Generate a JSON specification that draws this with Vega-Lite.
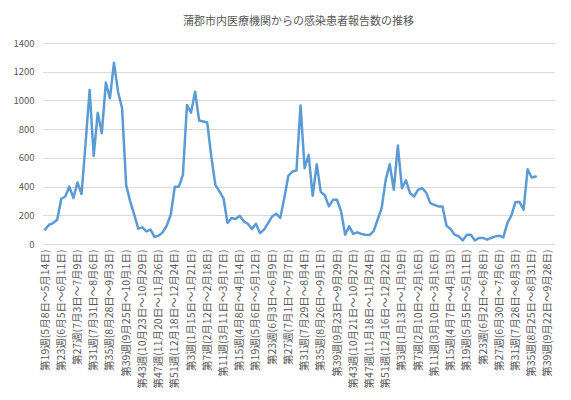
{
  "$schema": "https://vega.github.io/schema/vega-lite/v6.json",
  "width": 511,
  "height": 201,
  "padding": {"left": 12, "top": 16, "right": 16, "bottom": 4},
  "title": {
    "text": "蒲郡市内医療機関からの感染患者報告数の推移",
    "font": "Noto Sans CJK JP",
    "fontSize": 11,
    "fontWeight": "normal",
    "color": "#595959",
    "offset": 11
  },
  "data": {
    "values": [
      {"week": "第19週(5月8日～5月14日)", "count": 100},
      {"week": "第20週(5月15日～5月21日)", "count": 134},
      {"week": "第21週(5月22日～5月28日)", "count": 146},
      {"week": "第22週(5月29日～6月4日)", "count": 169},
      {"week": "第23週(6月5日～6月11日)", "count": 315},
      {"week": "第24週(6月12日～6月18日)", "count": 331},
      {"week": "第25週(6月19日～6月25日)", "count": 400},
      {"week": "第26週(6月26日～7月2日)", "count": 320},
      {"week": "第27週(7月3日～7月9日)", "count": 429},
      {"week": "第28週(7月10日～7月16日)", "count": 348},
      {"week": "第29週(7月17日～7月23日)", "count": 700},
      {"week": "第30週(7月24日～7月30日)", "count": 1073},
      {"week": "第31週(7月31日～8月6日)", "count": 614},
      {"week": "第32週(8月7日～8月13日)", "count": 915},
      {"week": "第33週(8月14日～8月20日)", "count": 772},
      {"week": "第34週(8月21日～8月27日)", "count": 1124},
      {"week": "第35週(8月28日～9月3日)", "count": 1015},
      {"week": "第36週(9月4日～9月10日)", "count": 1263},
      {"week": "第37週(9月11日～9月17日)", "count": 1061},
      {"week": "第38週(9月18日～9月24日)", "count": 945},
      {"week": "第39週(9月25日～10月1日)", "count": 412},
      {"week": "第40週(10月2日～10月8日)", "count": 297},
      {"week": "第41週(10月9日～10月15日)", "count": 204},
      {"week": "第42週(10月16日～10月22日)", "count": 107},
      {"week": "第43週(10月23日～10月29日)", "count": 116},
      {"week": "第44週(10月30日～11月5日)", "count": 88},
      {"week": "第45週(11月6日～11月12日)", "count": 100},
      {"week": "第46週(11月13日～11月19日)", "count": 49},
      {"week": "第47週(11月20日～11月26日)", "count": 58},
      {"week": "第48週(11月27日～12月3日)", "count": 81},
      {"week": "第49週(12月4日～12月10日)", "count": 127},
      {"week": "第50週(12月11日～12月17日)", "count": 204},
      {"week": "第51週(12月18日～12月24日)", "count": 399},
      {"week": "第52週(12月25日～12月31日)", "count": 399},
      {"week": "第1週(1月1日～1月7日)", "count": 482},
      {"week": "第2週(1月8日～1月14日)", "count": 968},
      {"week": "第3週(1月15日～1月21日)", "count": 915},
      {"week": "第4週(1月22日～1月28日)", "count": 1061},
      {"week": "第5週(1月29日～2月4日)", "count": 860},
      {"week": "第6週(2月5日～2月11日)", "count": 853},
      {"week": "第7週(2月12日～2月18日)", "count": 846},
      {"week": "第8週(2月19日～2月25日)", "count": 609},
      {"week": "第9週(2月26日～3月4日)", "count": 412},
      {"week": "第10週(3月5日～3月10日)", "count": 366},
      {"week": "第11週(3月11日～3月17日)", "count": 320},
      {"week": "第12週(3月18日～3月24日)", "count": 146},
      {"week": "第13週(3月25日～3月31日)", "count": 181},
      {"week": "第14週(4月1日～4月7日)", "count": 174},
      {"week": "第15週(4月8日～4月14日)", "count": 197},
      {"week": "第16週(4月15日～4月21日)", "count": 158},
      {"week": "第17週(4月22日～4月28日)", "count": 141},
      {"week": "第18週(4月29日～5月5日)", "count": 104},
      {"week": "第19週(5月6日～5月12日)", "count": 141},
      {"week": "第20週(5月13日～5月19日)", "count": 76},
      {"week": "第21週(5月20日～5月26日)", "count": 100},
      {"week": "第22週(5月27日～6月2日)", "count": 146},
      {"week": "第23週(6月3日～6月9日)", "count": 192},
      {"week": "第24週(6月10日～6月16日)", "count": 211},
      {"week": "第25週(6月17日～6月23日)", "count": 181},
      {"week": "第26週(6月24日～6月30日)", "count": 320},
      {"week": "第27週(7月1日～7月7日)", "count": 475},
      {"week": "第28週(7月8日～7月14日)", "count": 505},
      {"week": "第29週(7月15日～7月21日)", "count": 512},
      {"week": "第30週(7月22日～7月28日)", "count": 964},
      {"week": "第31週(7月29日～8月4日)", "count": 528},
      {"week": "第32週(8月5日～8月11日)", "count": 621},
      {"week": "第33週(8月12日～8月18日)", "count": 336},
      {"week": "第34週(8月19日～8月25日)", "count": 556},
      {"week": "第35週(8月26日～9月1日)", "count": 363},
      {"week": "第36週(9月2日～9月8日)", "count": 338},
      {"week": "第37週(9月9日～9月15日)", "count": 262},
      {"week": "第38週(9月16日～9月22日)", "count": 308},
      {"week": "第39週(9月23日～9月29日)", "count": 308},
      {"week": "第40週(9月30日～10月6日)", "count": 227},
      {"week": "第41週(10月7日～10月13日)", "count": 65},
      {"week": "第42週(10月14日～10月20日)", "count": 123},
      {"week": "第43週(10月21日～10月27日)", "count": 70},
      {"week": "第44週(10月28日～11月3日)", "count": 81},
      {"week": "第45週(11月4日～11月10日)", "count": 70},
      {"week": "第46週(11月11日～11月17日)", "count": 65},
      {"week": "第47週(11月18日～11月24日)", "count": 63},
      {"week": "第48週(11月25日～12月1日)", "count": 88},
      {"week": "第49週(12月2日～12月8日)", "count": 169},
      {"week": "第50週(12月9日～12月15日)", "count": 250},
      {"week": "第51週(12月16日～12月22日)", "count": 447},
      {"week": "第52週(12月23日～12月29日)", "count": 556},
      {"week": "第1週(12月30日～1月5日)", "count": 378},
      {"week": "第2週(1月6日～1月12日)", "count": 686},
      {"week": "第3週(1月13日～1月19日)", "count": 389},
      {"week": "第4週(1月20日～1月26日)", "count": 443},
      {"week": "第5週(1月27日～2月2日)", "count": 354},
      {"week": "第6週(2月3日～2月9日)", "count": 331},
      {"week": "第7週(2月10日～2月16日)", "count": 378},
      {"week": "第8週(2月17日～2月23日)", "count": 389},
      {"week": "第9週(2月24日～3月1日)", "count": 357},
      {"week": "第10週(3月2日～3月9日)", "count": 285},
      {"week": "第11週(3月10日～3月16日)", "count": 273},
      {"week": "第12週(3月17日～3月23日)", "count": 262},
      {"week": "第13週(3月24日～3月30日)", "count": 262},
      {"week": "第14週(3月31日～4月6日)", "count": 127},
      {"week": "第15週(4月7日～4月13日)", "count": 104},
      {"week": "第16週(4月14日～4月20日)", "count": 65},
      {"week": "第17週(4月21日～4月27日)", "count": 53},
      {"week": "第18週(4月28日～5月4日)", "count": 25},
      {"week": "第19週(5月5日～5月11日)", "count": 65},
      {"week": "第20週(5月12日～5月18日)", "count": 65},
      {"week": "第21週(5月19日～5月25日)", "count": 25},
      {"week": "第22週(5月26日～6月1日)", "count": 42},
      {"week": "第23週(6月2日～6月8日)", "count": 42},
      {"week": "第24週(6月9日～6月15日)", "count": 30},
      {"week": "第25週(6月16日～6月22日)", "count": 42},
      {"week": "第26週(6月23日～6月29日)", "count": 53},
      {"week": "第27週(6月30日～7月6日)", "count": 58},
      {"week": "第28週(7月7日～7月13日)", "count": 46},
      {"week": "第29週(7月14日～7月20日)", "count": 146},
      {"week": "第30週(7月21日～7月27日)", "count": 199},
      {"week": "第31週(7月28日～8月3日)", "count": 292},
      {"week": "第32週(8月4日～8月10日)", "count": 292},
      {"week": "第33週(8月11日～8月17日)", "count": 239},
      {"week": "第34週(8月18日～8月24日)", "count": 521},
      {"week": "第35週(8月25日～8月31日)", "count": 463},
      {"week": "第36週(9月1日～9月7日)", "count": 470},
      {"week": "第37週(9月8日～9月14日)", "count": null},
      {"week": "第38週(9月15日～9月21日)", "count": null},
      {"week": "第39週(9月22日～9月28日)", "count": null},
      {"week": "第40週(9月29日～10月5日)", "count": null}
    ]
  },
  "mark": {
    "type": "line",
    "color": "#5b9bd5",
    "strokeWidth": 2.5,
    "strokeJoin": "round",
    "strokeCap": "round",
    "invalid": "break-paths-show-domains"
  },
  "encoding": {
    "x": {
      "field": "week",
      "type": "ordinal",
      "sort": null,
      "scale": {"type": "point", "padding": 0.5},
      "axis": {
        "title": null,
        "values": [
          "第19週(5月8日～5月14日)", "第23週(6月5日～6月11日)", "第27週(7月3日～7月9日)", "第31週(7月31日～8月6日)",
          "第35週(8月28日～9月3日)", "第39週(9月25日～10月1日)", "第43週(10月23日～10月29日)", "第47週(11月20日～11月26日)",
          "第51週(12月18日～12月24日)", "第3週(1月15日～1月21日)", "第7週(2月12日～2月18日)", "第11週(3月11日～3月17日)",
          "第15週(4月8日～4月14日)", "第19週(5月6日～5月12日)", "第23週(6月3日～6月9日)", "第27週(7月1日～7月7日)",
          "第31週(7月29日～8月4日)", "第35週(8月26日～9月1日)", "第39週(9月23日～9月29日)", "第43週(10月21日～10月27日)",
          "第47週(11月18日～11月24日)", "第51週(12月16日～12月22日)", "第3週(1月13日～1月19日)", "第7週(2月10日～2月16日)",
          "第11週(3月10日～3月16日)", "第15週(4月7日～4月13日)", "第19週(5月5日～5月11日)", "第23週(6月2日～6月8日)",
          "第27週(6月30日～7月6日)", "第31週(7月28日～8月3日)", "第35週(8月25日～8月31日)", "第39週(9月22日～9月28日)"
        ],
        "labelAngle": -90,
        "labelOverlap": false,
        "labelPadding": 5,
        "labelFont": "Noto Sans CJK JP",
        "labelFontSize": 10.5,
        "labelColor": "#595959",
        "labelLimit": 200,
        "ticks": false,
        "grid": false,
        "domainColor": "#d9d9d9",
        "domainWidth": 1
      }
    },
    "y": {
      "field": "count",
      "type": "quantitative",
      "scale": {"domain": [0, 1400]},
      "axis": {
        "title": null,
        "values": [0, 200, 400, 600, 800, 1000, 1200, 1400],
        "format": "d",
        "labelFont": "Noto Sans CJK JP",
        "labelFontSize": 9.5,
        "labelColor": "#595959",
        "labelPadding": 9,
        "ticks": false,
        "domain": false,
        "gridColor": "#d9d9d9",
        "gridWidth": 1
      }
    }
  },
  "config": {
    "view": {"stroke": null},
    "background": "white"
  }
}
